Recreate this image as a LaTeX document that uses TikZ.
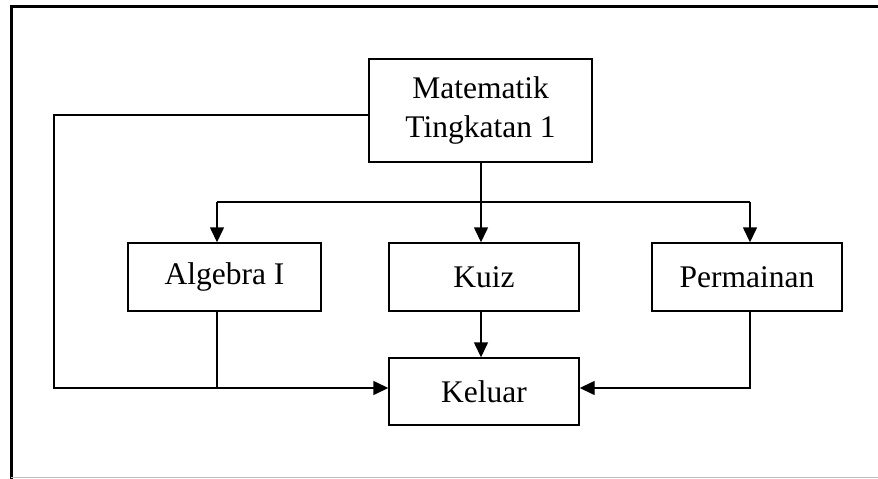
\documentclass[tikz,border=0pt]{standalone}
\usepackage{fontspec}
\setmainfont{Liberation Serif}
\usetikzlibrary{arrows.meta}
\begin{document}
\begin{tikzpicture}[x=1pt,y=-1pt,
  box/.style={draw,line width=1.4pt,inner sep=0pt,align=center,
    font=\fontsize{31.5}{39}\selectfont},
  conn/.style={line width=1.4pt},
  arr/.style={conn,-{Triangle[length=15pt,width=14pt]}}]
\useasboundingbox (0,0) rectangle (878,479);
% frame
\draw[line width=3pt] (11,479) -- (11,6) -- (878,6);
\draw[black!25,line width=1pt] (11,477.5) -- (878,477.5);
% boxes
\node[box,minimum width=223pt,minimum height=103pt] (mat) at (480.5,110.5) {Matematik\\Tingkatan 1};
\node[box,minimum width=193pt,minimum height=68pt] (alg) at (224.5,277) {Algebra I};
\node[box,minimum width=190pt,minimum height=68pt] (kuiz) at (484,277) {Kuiz};
\node[box,minimum width=190pt,minimum height=68pt] (perm) at (747,277) {Permainan};
\node[box,minimum width=190pt,minimum height=67pt] (kel) at (484,391.5) {Keluar};
% connectors
\coordinate (hub) at (481,202);
\coordinate (ta) at (217,202);
\coordinate (tp) at (750,202);
\coordinate (lc) at (54,388);
\draw[conn] (mat.south -| hub) -- (hub);
\draw[conn] (ta) -- (tp);
\draw[arr] (ta) -- (ta |- alg.north);
\draw[arr] (hub) -- (hub |- kuiz.north);
\draw[arr] (tp) -- (tp |- perm.north);
\draw[arr] (hub |- kuiz.south) -- (hub |- kel.north);
\draw[arr] ([yshift=-4.5pt]mat.west) -| (lc) -- (lc -| kel.west);
\draw[conn] (ta |- alg.south) -- (ta |- lc);
\draw[arr] (tp |- perm.south) |- (lc -| kel.east);
\end{tikzpicture}
\end{document}
